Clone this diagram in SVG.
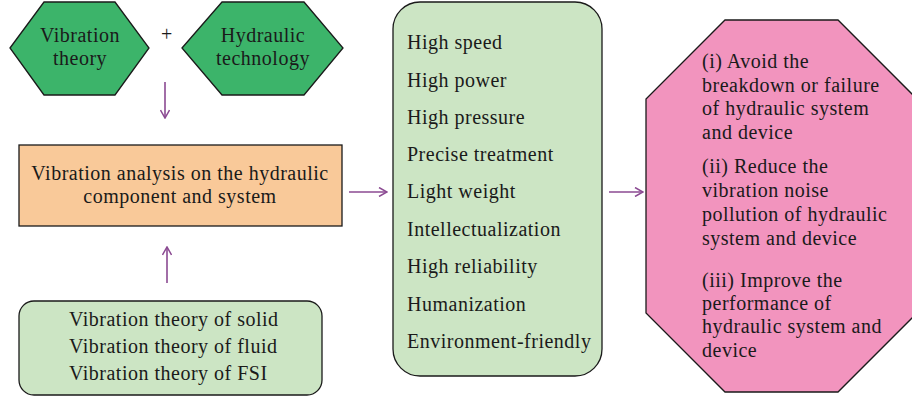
<svg xmlns="http://www.w3.org/2000/svg" width="912" height="398" viewBox="0 0 912 398">
<style>
text{font-family:"Liberation Serif","Times New Roman",serif;font-size:20px;letter-spacing:0.5px;fill:#1a1a1a}
.c{text-anchor:middle}
.hex{fill:#3cb46a;stroke:#1a1a1a;stroke-width:1.3}
.box{stroke:#1a1a1a;stroke-width:1.3}
.arr{stroke:#8b4a92;stroke-width:1.6;fill:none}
</style>
<defs>
<marker id="ah" viewBox="0 0 10 10" refX="9" refY="5" markerWidth="10" markerHeight="10" markerUnits="userSpaceOnUse" orient="auto">
<path d="M1,0.5 L9,5 L1,9.5" fill="none" stroke="#8b4a92" stroke-width="1.5"/>
</marker>
</defs>
<rect width="912" height="398" fill="#ffffff"/>
<g id="node-vibration-theory">
<polygon class="hex" points="10,48 44,2 115,2 149,48 115,95 44,95"/>
<text class="c" x="80" y="42">Vibration</text>
<text class="c" x="80" y="65">theory</text>
</g>
<g id="node-plus">
<text class="c" x="167" y="41">+</text>
</g>
<g id="node-hydraulic-technology">
<polygon class="hex" points="182,48 222,2 304,2 343,48 304,95 222,95"/>
<text class="c" x="263" y="42">Hydraulic</text>
<text class="c" x="263" y="65">technology</text>
</g>
<g id="node-vibration-analysis">
<rect class="box" x="19" y="145" width="323" height="81" fill="#f9c999"/>
<text class="c" x="180" y="180">Vibration analysis on the hydraulic</text>
<text class="c" x="180" y="203">component and system</text>
</g>
<g id="node-theories">
<rect class="box" x="19" y="301" width="303" height="94" rx="15" ry="15" fill="#cce5c4"/>
<text x="69" y="326">Vibration theory of solid</text>
<text x="69" y="353">Vibration theory of fluid</text>
<text x="69" y="380">Vibration theory of FSI</text>
</g>
<g id="node-features">
<rect class="box" x="393" y="2" width="209" height="374" rx="27" ry="27" fill="#cce5c4"/>
<text x="407" y="49">High speed</text>
<text x="407" y="87">High power</text>
<text x="407" y="124">High pressure</text>
<text x="407" y="161">Precise treatment</text>
<text x="407" y="198">Light weight</text>
<text x="407" y="236">Intellectualization</text>
<text x="407" y="273">High reliability</text>
<text x="407" y="311">Humanization</text>
<text x="407" y="348">Environment-friendly</text>
</g>
<g id="node-goals">
<polygon class="box" points="725,20 838,20 917,99 917,313 838,392 725,392 646,313 646,99" fill="#f294be"/>
<text x="702" y="68">(i) Avoid the</text>
<text x="702" y="92">breakdown or failure</text>
<text x="702" y="115">of hydraulic system</text>
<text x="702" y="139">and device</text>
<text x="702" y="173">(ii) Reduce the</text>
<text x="702" y="197">vibration noise</text>
<text x="702" y="221">pollution of hydraulic</text>
<text x="702" y="245">system and device</text>
<text x="702" y="287">(iii) Improve the</text>
<text x="702" y="310">performance of</text>
<text x="702" y="333">hydraulic system and</text>
<text x="702" y="357">device</text>
</g>
<g id="connectors">
<line class="arr" x1="165" y1="82" x2="165" y2="118" marker-end="url(#ah)"/>
<line class="arr" x1="167" y1="283" x2="167" y2="247" marker-end="url(#ah)"/>
<line class="arr" x1="349" y1="192" x2="387" y2="192" marker-end="url(#ah)"/>
<line class="arr" x1="609" y1="192" x2="643" y2="192" marker-end="url(#ah)"/>
</g>
</svg>
